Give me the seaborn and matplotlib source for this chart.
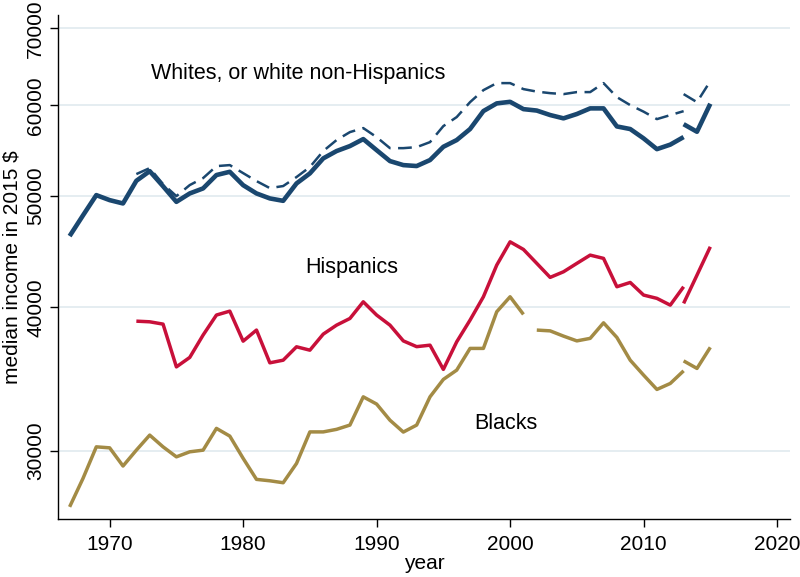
import numpy as np
import pandas as pd
import matplotlib
matplotlib.use("Agg")
import matplotlib.pyplot as plt
import matplotlib.ticker as mticker
import seaborn as sns

# median income (2015 $); series split at the 2002 / 2013 breaks
white_years = list(range(1967, 2014))
white_vals = [46150, 48100, 50100, 49600, 49270, 51560, 52570, 51000, 49430, 50270,
              50780, 52160, 52500, 51110, 50270, 49770, 49530, 51290, 52330, 53930,
              54730, 55280, 56060, 54830, 53640, 53210, 53110, 53750, 55200, 55950,
              57200, 59300, 60220, 60410, 59530, 59360, 58830, 58440, 58950, 59620,
              59620, 57500, 57200, 56140, 54940, 55440, 56290]
white_years2 = [2013, 2014, 2015]
white_vals2 = [57760, 56890, 60180]

nh_years = list(range(1972, 2014))
nh_vals = [52260, 52890, 51220, 50000, 51120, 51840, 53100, 53210, 52360, 51530,
           50810, 51020, 51950, 53000, 54730, 55950, 56850, 57310, 56280, 55050,
           55050, 55160, 55720, 57540, 58590, 60370, 61840, 62720, 62720, 61970,
           61660, 61470, 61350, 61600, 61600, 62720, 60980, 60010, 59230, 58350,
           58820, 59290]
nh_years2 = [2013, 2014, 2015]
nh_vals2 = [61350, 60370, 62970]

hisp_years = list(range(1972, 2014))
hisp_vals = [38910, 38860, 38680, 35500, 36180, 37840, 39390, 39700, 37380, 38220,
             35790, 35980, 36960, 36710, 37910, 38600, 39120, 40450, 39390, 38600,
             37400, 36970, 37080, 35320, 37330, 38990, 40860, 43540, 45620, 44930,
             43690, 42480, 42960, 43690, 44420, 44130, 41690, 42050, 41000, 40730,
             40180, 41690]
hisp_years2 = [2013, 2014, 2015]
hisp_vals2 = [40320, 42670, 45170]

black_years = list(range(1967, 2002))
black_vals = [26810, 28380, 30240, 30180, 29100, 30040, 30960, 30240, 29640, 29940,
              30040, 31380, 30900, 29550, 28330, 28250, 28140, 29250, 31160, 31160,
              31320, 31590, 33430, 32950, 31900, 31150, 31590, 33430, 34620, 35270,
              36840, 36840, 39650, 40860, 39440]
black_years2 = list(range(2002, 2014))
black_vals2 = [38220, 38160, 37760, 37400, 37590, 38780, 37660, 35980, 34920, 33930,
               34340, 35220]
black_years3 = [2013, 2014, 2015]
black_vals3 = [35930, 35390, 36920]

navy = "#1a476f"
red = "#c8103a"
gold = "#a38b45"

sns.set_style("white")
plt.rcParams["font.family"] = ["Liberation Sans", "DejaVu Sans"]
plt.rcParams["text.color"] = "black"
plt.rcParams["axes.labelcolor"] = "black"

fig = plt.figure(figsize=(8, 5.77), dpi=100)
ax = fig.add_axes([0.072, 0.100, 0.916, 0.874])

for yrs, vals in [(white_years, white_vals), (white_years2, white_vals2)]:
    sns.lineplot(x=yrs, y=vals, ax=ax, color=navy, lw=3.3, solid_capstyle="butt")
for yrs, vals in [(nh_years, nh_vals), (nh_years2, nh_vals2)]:
    sns.lineplot(x=yrs, y=vals, ax=ax, color=navy, lw=1.8, linestyle=(0, (5.5, 3)))
for yrs, vals in [(hisp_years, hisp_vals), (hisp_years2, hisp_vals2)]:
    sns.lineplot(x=yrs, y=vals, ax=ax, color=red, lw=2.5, solid_capstyle="butt")
for yrs, vals in [(black_years, black_vals), (black_years2, black_vals2),
                  (black_years3, black_vals3)]:
    sns.lineplot(x=yrs, y=vals, ax=ax, color=gold, lw=2.5, solid_capstyle="butt")

ax.set_yscale("log")
ax.set_ylim(26150, 71900)
ax.set_xlim(1966.1, 2021)

yt = [30000, 40000, 50000, 60000, 70000]
ax.yaxis.set_major_locator(mticker.FixedLocator(yt))
ax.yaxis.set_minor_locator(mticker.NullLocator())
ax.yaxis.set_major_formatter(mticker.FixedFormatter([str(v) for v in yt]))
ax.set_xticks([1970, 1980, 1990, 2000, 2010, 2020])

ax.grid(axis="y", color="#e3ecf0", lw=1.3)
ax.grid(axis="x", visible=False)
ax.set_axisbelow(True)

for s in ["top", "right"]:
    ax.spines[s].set_visible(False)
for s in ["left", "bottom"]:
    ax.spines[s].set_color("black")
    ax.spines[s].set_linewidth(1.0)

ax.tick_params(axis="both", direction="out", length=6, width=1.0, color="black",
               labelsize=15, labelcolor="black")
ax.tick_params(axis="x", bottom=True, pad=5)
ax.tick_params(axis="y", left=True, pad=3)
for lab in ax.get_yticklabels():
    lab.set_rotation(90)
    lab.set_va("center")

ax.set_xlabel("year", fontsize=15, labelpad=0, color="black")
ax.set_ylabel("median income in 2015 $", fontsize=15, labelpad=3, color="black")

ax.text(1984.1, 64000, "Whites, or white non-Hispanics", fontsize=15.5, ha="center",
        va="center", color="black")
ax.text(1988.1, 43300, "Hispanics", fontsize=15.5, ha="center", va="center", color="black")
ax.text(1999.7, 31700, "Blacks", fontsize=15.5, ha="center", va="center", color="black")

fig.savefig("out.png", dpi=100)
